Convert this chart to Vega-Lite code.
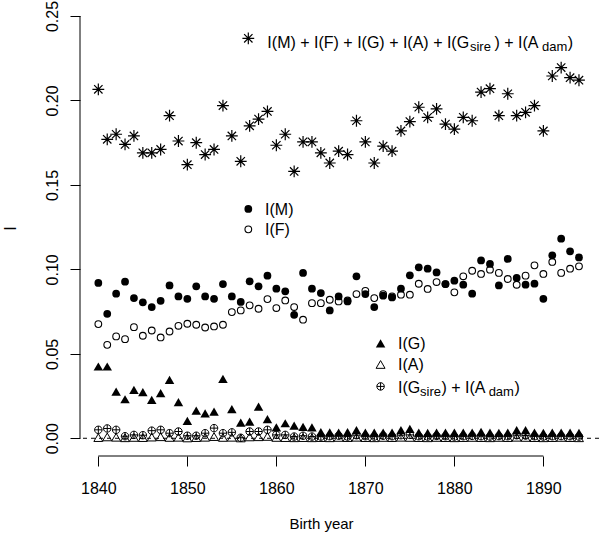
{
  "$schema": "https://vega.github.io/schema/vega-lite/v6.json",
  "width": 519,
  "height": 456,
  "autosize": {"type": "none"},
  "padding": {"left": 80, "top": 0, "right": 1, "bottom": 89},
  "background": "white",
  "config": {"view": {"stroke": null}, "font": "Liberation Sans"},
  "resolve": {"axis": {"x": "independent", "y": "independent"}},
  "datasets": {
    "obs": [
      {"x":1840,"s":"T","v":0.2066},{"x":1841,"s":"T","v":0.177},{"x":1842,"s":"T","v":0.180},{"x":1843,"s":"T","v":0.174},{"x":1844,"s":"T","v":0.179},
      {"x":1845,"s":"T","v":0.169},{"x":1846,"s":"T","v":0.169},{"x":1847,"s":"T","v":0.171},{"x":1848,"s":"T","v":0.191},{"x":1849,"s":"T","v":0.176},
      {"x":1850,"s":"T","v":0.162},{"x":1851,"s":"T","v":0.175},{"x":1852,"s":"T","v":0.168},{"x":1853,"s":"T","v":0.171},{"x":1854,"s":"T","v":0.197},
      {"x":1855,"s":"T","v":0.179},{"x":1856,"s":"T","v":0.164},{"x":1857,"s":"T","v":0.185},{"x":1858,"s":"T","v":0.189},{"x":1859,"s":"T","v":0.1935},
      {"x":1860,"s":"T","v":0.1735},{"x":1861,"s":"T","v":0.180},{"x":1862,"s":"T","v":0.158},{"x":1863,"s":"T","v":0.1755},{"x":1864,"s":"T","v":0.1755},
      {"x":1865,"s":"T","v":0.169},{"x":1866,"s":"T","v":0.163},{"x":1867,"s":"T","v":0.170},{"x":1868,"s":"T","v":0.168},{"x":1869,"s":"T","v":0.188},
      {"x":1870,"s":"T","v":0.1755},{"x":1871,"s":"T","v":0.163},{"x":1872,"s":"T","v":0.173},{"x":1873,"s":"T","v":0.170},{"x":1874,"s":"T","v":0.182},
      {"x":1875,"s":"T","v":0.1875},{"x":1876,"s":"T","v":0.196},{"x":1877,"s":"T","v":0.190},{"x":1878,"s":"T","v":0.195},{"x":1879,"s":"T","v":0.186},
      {"x":1880,"s":"T","v":0.183},{"x":1881,"s":"T","v":0.190},{"x":1882,"s":"T","v":0.188},{"x":1883,"s":"T","v":0.205},{"x":1884,"s":"T","v":0.207},
      {"x":1885,"s":"T","v":0.191},{"x":1886,"s":"T","v":0.204},{"x":1887,"s":"T","v":0.191},{"x":1888,"s":"T","v":0.193},{"x":1889,"s":"T","v":0.197},
      {"x":1890,"s":"T","v":0.182},{"x":1891,"s":"T","v":0.2145},{"x":1892,"s":"T","v":0.2195},{"x":1893,"s":"T","v":0.2135},{"x":1894,"s":"T","v":0.212},
      {"x":1840,"s":"M","v":0.092},{"x":1841,"s":"M","v":0.0737},{"x":1842,"s":"M","v":0.0856},{"x":1843,"s":"M","v":0.0927},{"x":1844,"s":"M","v":0.083},
      {"x":1845,"s":"M","v":0.0805},{"x":1846,"s":"M","v":0.0777},{"x":1847,"s":"M","v":0.0814},{"x":1848,"s":"M","v":0.0905},{"x":1849,"s":"M","v":0.084},
      {"x":1850,"s":"M","v":0.0826},{"x":1851,"s":"M","v":0.090},{"x":1852,"s":"M","v":0.084},{"x":1853,"s":"M","v":0.0826},{"x":1854,"s":"M","v":0.0913},
      {"x":1855,"s":"M","v":0.084},{"x":1856,"s":"M","v":0.0807},{"x":1857,"s":"M","v":0.0929},{"x":1858,"s":"M","v":0.090},{"x":1859,"s":"M","v":0.0963},
      {"x":1860,"s":"M","v":0.0886},{"x":1861,"s":"M","v":0.087},{"x":1862,"s":"M","v":0.0731},{"x":1863,"s":"M","v":0.0979},{"x":1864,"s":"M","v":0.0886},
      {"x":1865,"s":"M","v":0.086},{"x":1866,"s":"M","v":0.0757},{"x":1867,"s":"M","v":0.084},{"x":1868,"s":"M","v":0.081},{"x":1869,"s":"M","v":0.0959},
      {"x":1870,"s":"M","v":0.0854},{"x":1871,"s":"M","v":0.0777},{"x":1872,"s":"M","v":0.0844},{"x":1873,"s":"M","v":0.0834},{"x":1874,"s":"M","v":0.0886},
      {"x":1875,"s":"M","v":0.0965},{"x":1876,"s":"M","v":0.1012},{"x":1877,"s":"M","v":0.1004},{"x":1878,"s":"M","v":0.0982},{"x":1879,"s":"M","v":0.0913},
      {"x":1880,"s":"M","v":0.0933},{"x":1881,"s":"M","v":0.0909},{"x":1882,"s":"M","v":0.0856},{"x":1883,"s":"M","v":0.1053},{"x":1884,"s":"M","v":0.1032},
      {"x":1885,"s":"M","v":0.0905},{"x":1886,"s":"M","v":0.1062},{"x":1887,"s":"M","v":0.0949},{"x":1888,"s":"M","v":0.0909},{"x":1889,"s":"M","v":0.0915},
      {"x":1890,"s":"M","v":0.0826},{"x":1891,"s":"M","v":0.1083},{"x":1892,"s":"M","v":0.1182},{"x":1893,"s":"M","v":0.1107},{"x":1894,"s":"M","v":0.1071},
      {"x":1840,"s":"F","v":0.0676},{"x":1841,"s":"F","v":0.0553},{"x":1842,"s":"F","v":0.0603},{"x":1843,"s":"F","v":0.0587},{"x":1844,"s":"F","v":0.0658},
      {"x":1845,"s":"F","v":0.0607},{"x":1846,"s":"F","v":0.0638},{"x":1847,"s":"F","v":0.0597},{"x":1848,"s":"F","v":0.0632},{"x":1849,"s":"F","v":0.0666},
      {"x":1850,"s":"F","v":0.0678},{"x":1851,"s":"F","v":0.0672},{"x":1852,"s":"F","v":0.0656},{"x":1853,"s":"F","v":0.0662},{"x":1854,"s":"F","v":0.0672},
      {"x":1855,"s":"F","v":0.0747},{"x":1856,"s":"F","v":0.0757},{"x":1857,"s":"F","v":0.0787},{"x":1858,"s":"F","v":0.0767},{"x":1859,"s":"F","v":0.0824},
      {"x":1860,"s":"F","v":0.0771},{"x":1861,"s":"F","v":0.0816},{"x":1862,"s":"F","v":0.0777},{"x":1863,"s":"F","v":0.0702},{"x":1864,"s":"F","v":0.080},
      {"x":1865,"s":"F","v":0.080},{"x":1866,"s":"F","v":0.082},{"x":1867,"s":"F","v":0.081},{"x":1868,"s":"F","v":0.0816},{"x":1869,"s":"F","v":0.0854},
      {"x":1870,"s":"F","v":0.0873},{"x":1871,"s":"F","v":0.083},{"x":1872,"s":"F","v":0.0854},{"x":1873,"s":"F","v":0.084},{"x":1874,"s":"F","v":0.085},
      {"x":1875,"s":"F","v":0.085},{"x":1876,"s":"F","v":0.0915},{"x":1877,"s":"F","v":0.0884},{"x":1878,"s":"F","v":0.0925},{"x":1879,"s":"F","v":0.0913},
      {"x":1880,"s":"F","v":0.0864},{"x":1881,"s":"F","v":0.0959},{"x":1882,"s":"F","v":0.0992},{"x":1883,"s":"F","v":0.0973},{"x":1884,"s":"F","v":0.0998},
      {"x":1885,"s":"F","v":0.0979},{"x":1886,"s":"F","v":0.0943},{"x":1887,"s":"F","v":0.0909},{"x":1888,"s":"F","v":0.0963},{"x":1889,"s":"F","v":0.1024},
      {"x":1890,"s":"F","v":0.0973},{"x":1891,"s":"F","v":0.1044},{"x":1892,"s":"F","v":0.0979},{"x":1893,"s":"F","v":0.1004},{"x":1894,"s":"F","v":0.1018},
      {"x":1840,"s":"G","v":0.0425},{"x":1841,"s":"G","v":0.0425},{"x":1842,"s":"G","v":0.0276},{"x":1843,"s":"G","v":0.0231},{"x":1844,"s":"G","v":0.0287},
      {"x":1845,"s":"G","v":0.0273},{"x":1846,"s":"G","v":0.0227},{"x":1847,"s":"G","v":0.0267},{"x":1848,"s":"G","v":0.0346},{"x":1849,"s":"G","v":0.0214},
      {"x":1850,"s":"G","v":0.0103},{"x":1851,"s":"G","v":0.0164},{"x":1852,"s":"G","v":0.0148},{"x":1853,"s":"G","v":0.0158},{"x":1854,"s":"G","v":0.0352},
      {"x":1855,"s":"G","v":0.0172},{"x":1856,"s":"G","v":0.0093},{"x":1857,"s":"G","v":0.0098},{"x":1858,"s":"G","v":0.0187},{"x":1859,"s":"G","v":0.0113},
      {"x":1860,"s":"G","v":0.0065},{"x":1861,"s":"G","v":0.0089},{"x":1862,"s":"G","v":0.0075},{"x":1863,"s":"G","v":0.0068},{"x":1864,"s":"G","v":0.0064},
      {"x":1865,"s":"G","v":0.0036},{"x":1866,"s":"G","v":0.0035},{"x":1867,"s":"G","v":0.0033},{"x":1868,"s":"G","v":0.0036},{"x":1869,"s":"G","v":0.0048},
      {"x":1870,"s":"G","v":0.0033},{"x":1871,"s":"G","v":0.0033},{"x":1872,"s":"G","v":0.0034},{"x":1873,"s":"G","v":0.0033},{"x":1874,"s":"G","v":0.0048},
      {"x":1875,"s":"G","v":0.0055},{"x":1876,"s":"G","v":0.0033},{"x":1877,"s":"G","v":0.0032},{"x":1878,"s":"G","v":0.0033},{"x":1879,"s":"G","v":0.0033},
      {"x":1880,"s":"G","v":0.0034},{"x":1881,"s":"G","v":0.0033},{"x":1882,"s":"G","v":0.0033},{"x":1883,"s":"G","v":0.0038},{"x":1884,"s":"G","v":0.0033},
      {"x":1885,"s":"G","v":0.0032},{"x":1886,"s":"G","v":0.0033},{"x":1887,"s":"G","v":0.0048},{"x":1888,"s":"G","v":0.0048},{"x":1889,"s":"G","v":0.0033},
      {"x":1890,"s":"G","v":0.0032},{"x":1891,"s":"G","v":0.0033},{"x":1892,"s":"G","v":0.0033},{"x":1893,"s":"G","v":0.0033},{"x":1894,"s":"G","v":0.0032},
      {"x":1840,"s":"A","v":0.0004},{"x":1841,"s":"A","v":0.0008},{"x":1842,"s":"A","v":0.0006},{"x":1843,"s":"A","v":0.0003},{"x":1844,"s":"A","v":0.0005},
      {"x":1845,"s":"A","v":0.0004},{"x":1846,"s":"A","v":0.0007},{"x":1847,"s":"A","v":0.0009},{"x":1848,"s":"A","v":0.0005},{"x":1849,"s":"A","v":0.0006},
      {"x":1850,"s":"A","v":0.0002},{"x":1851,"s":"A","v":0.0004},{"x":1852,"s":"A","v":0.0006},{"x":1853,"s":"A","v":0.0010},{"x":1854,"s":"A","v":0.0005},
      {"x":1855,"s":"A","v":0.0006},{"x":1856,"s":"A","v":0.0002},{"x":1857,"s":"A","v":0.0008},{"x":1858,"s":"A","v":0.0009},{"x":1859,"s":"A","v":0.0011},
      {"x":1860,"s":"A","v":0.0005},{"x":1861,"s":"A","v":0.0004},{"x":1862,"s":"A","v":0.0003},{"x":1863,"s":"A","v":0.0004},{"x":1864,"s":"A","v":0.0003},
      {"x":1865,"s":"A","v":0.0004},{"x":1866,"s":"A","v":0.0003},{"x":1867,"s":"A","v":0.0005},{"x":1868,"s":"A","v":0.0004},{"x":1869,"s":"A","v":0.0006},
      {"x":1870,"s":"A","v":0.0004},{"x":1871,"s":"A","v":0.0003},{"x":1872,"s":"A","v":0.0005},{"x":1873,"s":"A","v":0.0004},{"x":1874,"s":"A","v":0.0006},
      {"x":1875,"s":"A","v":0.0005},{"x":1876,"s":"A","v":0.0004},{"x":1877,"s":"A","v":0.0003},{"x":1878,"s":"A","v":0.0005},{"x":1879,"s":"A","v":0.0004},
      {"x":1880,"s":"A","v":0.0003},{"x":1881,"s":"A","v":0.0004},{"x":1882,"s":"A","v":0.0005},{"x":1883,"s":"A","v":0.0004},{"x":1884,"s":"A","v":0.0003},
      {"x":1885,"s":"A","v":0.0005},{"x":1886,"s":"A","v":0.0004},{"x":1887,"s":"A","v":0.0006},{"x":1888,"s":"A","v":0.0005},{"x":1889,"s":"A","v":0.0004},
      {"x":1890,"s":"A","v":0.0003},{"x":1891,"s":"A","v":0.0004},{"x":1892,"s":"A","v":0.0005},{"x":1893,"s":"A","v":0.0004},{"x":1894,"s":"A","v":0.0003},
      {"x":1840,"s":"C","v":0.005},{"x":1841,"s":"C","v":0.0058},{"x":1842,"s":"C","v":0.005},{"x":1843,"s":"C","v":0.0012},{"x":1844,"s":"C","v":0.002},
      {"x":1845,"s":"C","v":0.0018},{"x":1846,"s":"C","v":0.0045},{"x":1847,"s":"C","v":0.005},{"x":1848,"s":"C","v":0.003},{"x":1849,"s":"C","v":0.004},
      {"x":1850,"s":"C","v":0.0015},{"x":1851,"s":"C","v":0.0015},{"x":1852,"s":"C","v":0.003},{"x":1853,"s":"C","v":0.006},{"x":1854,"s":"C","v":0.003},
      {"x":1855,"s":"C","v":0.0035},{"x":1856,"s":"C","v":0.0003},{"x":1857,"s":"C","v":0.004},{"x":1858,"s":"C","v":0.004},{"x":1859,"s":"C","v":0.005},
      {"x":1860,"s":"C","v":0.002},{"x":1861,"s":"C","v":0.002},{"x":1862,"s":"C","v":0.001},{"x":1863,"s":"C","v":0.0015},{"x":1864,"s":"C","v":0.001},
      {"x":1865,"s":"C","v":0.001},{"x":1866,"s":"C","v":0.0012},{"x":1867,"s":"C","v":0.0015},{"x":1868,"s":"C","v":0.001},{"x":1869,"s":"C","v":0.0018},
      {"x":1870,"s":"C","v":0.0012},{"x":1871,"s":"C","v":0.001},{"x":1872,"s":"C","v":0.0015},{"x":1873,"s":"C","v":0.0012},{"x":1874,"s":"C","v":0.0018},
      {"x":1875,"s":"C","v":0.002},{"x":1876,"s":"C","v":0.0012},{"x":1877,"s":"C","v":0.001},{"x":1878,"s":"C","v":0.0014},{"x":1879,"s":"C","v":0.0012},
      {"x":1880,"s":"C","v":0.001},{"x":1881,"s":"C","v":0.0012},{"x":1882,"s":"C","v":0.0014},{"x":1883,"s":"C","v":0.0012},{"x":1884,"s":"C","v":0.001},
      {"x":1885,"s":"C","v":0.0013},{"x":1886,"s":"C","v":0.0012},{"x":1887,"s":"C","v":0.0018},{"x":1888,"s":"C","v":0.0016},{"x":1889,"s":"C","v":0.0012},
      {"x":1890,"s":"C","v":0.001},{"x":1891,"s":"C","v":0.0012},{"x":1892,"s":"C","v":0.0013},{"x":1893,"s":"C","v":0.0012},{"x":1894,"s":"C","v":0.001},
      {"x":1856.85,"s":"T","v":0.2368,"key":1},
      {"x":1856.85,"s":"M","v":0.1358,"key":1},
      {"x":1856.85,"s":"F","v":0.1237,"key":1},
      {"x":1871.71,"s":"G","v":0.0562,"key":1},
      {"x":1871.71,"s":"A","v":0.0437,"key":1},
      {"x":1871.71,"s":"C","v":0.0307,"key":1}
    ],
    "lab": [
      {"x":1858.99,"v":0.2309,"t":"I(M) + I(F) + I(G) + I(A) + I(G"},
      {"x":1884.5,"v":0.2309,"t":") + I(A"},
      {"x":1892.75,"v":0.2309,"t":")"},
      {"x":1858.73,"v":0.1322,"t":"I(M)"},
      {"x":1858.73,"v":0.1204,"t":"I(F)"},
      {"x":1873.67,"v":0.0529,"t":"I(G)"},
      {"x":1873.67,"v":0.0404,"t":"I(A)"},
      {"x":1873.67,"v":0.0269,"t":"I(G"},
      {"x":1878.55,"v":0.0269,"t":") + I(A"},
      {"x":1886.75,"v":0.0269,"t":")"}
    ],
    "sub": [
      {"x":1881.75,"v":0.2291,"t":"sire"},
      {"x":1889.85,"v":0.2291,"t":"dam"},
      {"x":1876.15,"v":0.0250,"t":"sire"},
      {"x":1883.85,"v":0.0250,"t":"dam"}
    ]
  },
  "layer": [
    {
      "data": {"values": [{}]},
      "mark": {"type": "rule", "color": "black", "strokeWidth": 1, "strokeDash": [4, 4]},
      "encoding": {
        "y": {"datum": 0, "type": "quantitative", "scale": {"domain": [-0.0105, 0.2595], "nice": false, "zero": false}, "axis": null}
      }
    },
    {
      "data": {"values": [{}]},
      "mark": {"type": "rule", "color": "black", "strokeWidth": 1},
      "encoding": {
        "x": {"datum": 1837.94, "type": "quantitative", "scale": {"domain": [1837.94, 1896.25], "nice": false, "zero": false}, "axis": null},
        "y": {"datum": 0, "type": "quantitative", "scale": {"domain": [-0.0105, 0.2595], "nice": false, "zero": false}, "axis": null},
        "y2": {"datum": 0.25}
      }
    },
    {
      "data": {"values": [{}]},
      "mark": {"type": "rule", "color": "black", "strokeWidth": 1},
      "encoding": {
        "x": {"datum": 1840, "type": "quantitative", "scale": {"domain": [1837.94, 1896.25], "nice": false, "zero": false}, "axis": null},
        "x2": {"datum": 1890},
        "y": {"datum": -0.0105, "type": "quantitative", "scale": {"domain": [-0.0105, 0.2595], "nice": false, "zero": false}, "axis": null}
      }
    },
    {
      "data": {"name": "obs"},
      "transform": [{"filter": "datum.s === 'C'"}],
      "mark": {"type": "point", "shape": "M-1,0A1,1,0,1,1,1,0A1,1,0,1,1,-1,0ZM-1,0L1,0M0,-1L0,1", "filled": false, "stroke": "black", "strokeWidth": 1, "size": 56, "opacity": 1},
      "encoding": {
        "x": {"field": "x", "type": "quantitative", "scale": {"domain": [1837.94, 1896.25], "nice": false, "zero": false}, "axis": null},
        "y": {"field": "v", "type": "quantitative", "scale": {"domain": [-0.0105, 0.2595], "nice": false, "zero": false}, "axis": null}
      }
    },
    {
      "data": {"name": "obs"},
      "transform": [{"filter": "datum.s === 'A'"}],
      "mark": {"type": "point", "shape": "triangle-up", "filled": false, "stroke": "black", "strokeWidth": 1, "size": 80, "opacity": 1},
      "encoding": {
        "x": {"field": "x", "type": "quantitative", "scale": {"domain": [1837.94, 1896.25], "nice": false, "zero": false}, "axis": null},
        "y": {"field": "v", "type": "quantitative", "scale": {"domain": [-0.0105, 0.2595], "nice": false, "zero": false}, "axis": null}
      }
    },
    {
      "data": {"name": "obs"},
      "transform": [{"filter": "datum.s === 'G'"}],
      "mark": {"type": "point", "shape": "triangle-up", "filled": true, "color": "black", "size": 90, "opacity": 1},
      "encoding": {
        "x": {"field": "x", "type": "quantitative", "scale": {"domain": [1837.94, 1896.25], "nice": false, "zero": false}, "axis": null},
        "y": {"field": "v", "type": "quantitative", "scale": {"domain": [-0.0105, 0.2595], "nice": false, "zero": false}, "axis": null}
      }
    },
    {
      "data": {"name": "obs"},
      "transform": [{"filter": "datum.s === 'F'"}],
      "mark": {"type": "point", "shape": "circle", "filled": false, "stroke": "black", "strokeWidth": 1.1, "size": 45, "opacity": 1},
      "encoding": {
        "x": {"field": "x", "type": "quantitative", "scale": {"domain": [1837.94, 1896.25], "nice": false, "zero": false}, "axis": null},
        "y": {"field": "v", "type": "quantitative", "scale": {"domain": [-0.0105, 0.2595], "nice": false, "zero": false}, "axis": null}
      }
    },
    {
      "data": {"name": "obs"},
      "transform": [{"filter": "datum.s === 'M'"}],
      "mark": {"type": "point", "shape": "circle", "filled": true, "color": "black", "size": 60, "opacity": 1},
      "encoding": {
        "x": {"field": "x", "type": "quantitative", "scale": {"domain": [1837.94, 1896.25], "nice": false, "zero": false}, "axis": null},
        "y": {"field": "v", "type": "quantitative", "scale": {"domain": [-0.0105, 0.2595], "nice": false, "zero": false}, "axis": null}
      }
    },
    {
      "data": {"name": "obs"},
      "transform": [{"filter": "datum.s === 'T'"}],
      "mark": {"type": "point", "shape": "M0,-1L0,1M-1,0L1,0M-0.707,-0.707L0.707,0.707M-0.707,0.707L0.707,-0.707", "filled": false, "stroke": "black", "strokeWidth": 1.2, "size": 140, "opacity": 1},
      "encoding": {
        "x": {"field": "x", "type": "quantitative", "scale": {"domain": [1837.94, 1896.25], "nice": false, "zero": false},
          "axis": {"values": [1840, 1850, 1860, 1870, 1880, 1890], "format": "d", "domain": false, "grid": false, "ticks": true, "tickSize": 10, "tickColor": "black", "tickWidth": 1,
            "labelFont": "Liberation Sans", "labelFontSize": 16, "labelColor": "black", "labelPadding": 14, "labelFlush": false,
            "title": "Birth year", "titleFont": "Liberation Sans", "titleFontSize": 15, "titleFontWeight": "normal", "titleColor": "black",
            "titleX": 241, "titleY": 67, "titleAlign": "center", "titleBaseline": "middle"}},
        "y": {"field": "v", "type": "quantitative", "scale": {"domain": [-0.0105, 0.2595], "nice": false, "zero": false},
          "axis": {"values": [0, 0.05, 0.1, 0.15, 0.2, 0.25], "format": ".2f", "domain": false, "grid": false, "ticks": true, "tickSize": 10, "tickColor": "black", "tickWidth": 1,
            "labelFont": "Liberation Sans", "labelFontSize": 16, "labelColor": "black", "labelPadding": 10, "labelAngle": 270, "labelAlign": "center", "labelBaseline": "bottom", "labelFlush": false,
            "title": "I", "titleFont": "Liberation Sans", "titleFontSize": 16, "titleFontWeight": "normal", "titleColor": "black",
            "titleX": -70, "titleY": 228, "titleAngle": 270, "titleAlign": "center", "titleBaseline": "middle"}}
      }
    },
    {
      "data": {"name": "lab"},
      "mark": {"type": "text", "align": "left", "baseline": "alphabetic", "font": "Liberation Sans", "fontSize": 16, "color": "black"},
      "encoding": {
        "x": {"field": "x", "type": "quantitative", "scale": {"domain": [1837.94, 1896.25], "nice": false, "zero": false}, "axis": null},
        "y": {"field": "v", "type": "quantitative", "scale": {"domain": [-0.0105, 0.2595], "nice": false, "zero": false}, "axis": null},
        "text": {"field": "t"}
      }
    },
    {
      "data": {"name": "sub"},
      "mark": {"type": "text", "align": "left", "baseline": "alphabetic", "font": "Liberation Sans", "fontSize": 13, "color": "black"},
      "encoding": {
        "x": {"field": "x", "type": "quantitative", "scale": {"domain": [1837.94, 1896.25], "nice": false, "zero": false}, "axis": null},
        "y": {"field": "v", "type": "quantitative", "scale": {"domain": [-0.0105, 0.2595], "nice": false, "zero": false}, "axis": null},
        "text": {"field": "t"}
      }
    }
  ]
}
